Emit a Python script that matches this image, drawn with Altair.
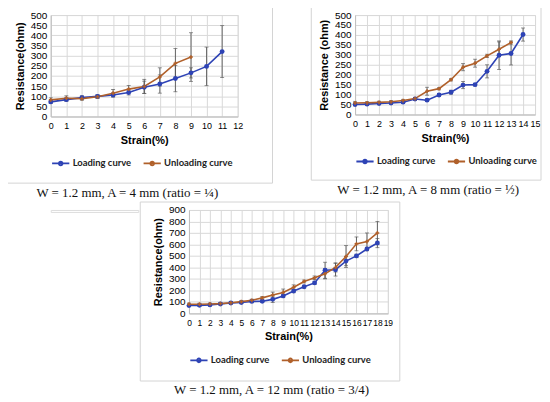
import altair as alt
import pandas as pd

# ---------------- data ----------------
series_names = ["Loading curve", "Unloading curve"]

strain1_load = list(range(0, 12))
load1 = [72, 83, 93, 99, 106, 118, 144, 160, 187, 215, 247, 320]
load1_err = [8, 8, 10, 8, 10, 12, 30, 45, 65, 25, 95, 128]
strain1_unload = list(range(0, 10))
unload1 = [82, 90, 88, 97, 115, 135, 148, 195, 262, 293]
unload1_err = [10, 12, 8, 8, 18, 18, 35, 45, 73, 120]

strain2_load = list(range(0, 15))
load2 = [50, 52, 55, 58, 62, 78, 72, 98, 112, 148, 150, 217, 298, 307, 402]
load2_err = [6, 5, 5, 5, 6, 6, 6, 8, 10, 18, 6, 33, 72, 58, 33]
strain2_unload = list(range(0, 14))
unload2 = [58, 59, 61, 64, 70, 80, 117, 130, 175, 238, 258, 295, 328, 362]
unload2_err = [8, 6, 6, 6, 6, 6, 20, 6, 6, 18, 20, 8, 37, 8]

strain3_load = list(range(0, 19))
load3 = [68, 70, 74, 82, 90, 94, 104, 106, 122, 152, 195, 232, 265, 375, 380, 455, 500, 560, 612]
load3_err = [8, 8, 8, 8, 8, 8, 10, 10, 28, 15, 15, 12, 15, 70, 55, 40, 15, 15, 40]
strain3_unload = list(range(0, 19))
unload3 = [80, 80, 82, 85, 92, 102, 114, 135, 160, 182, 228, 278, 310, 345, 400, 495, 605, 625, 700]
unload3_err = [10, 8, 8, 8, 8, 10, 10, 12, 25, 30, 20, 12, 15, 45, 40, 95, 60, 75, 100]

captions = [
    "W = 1.2 mm, A = 4 mm (ratio = \u00bc)",
    "W = 1.2 mm, A = 8 mm (ratio = \u00bd)",
    "W = 1.2 mm, A = 12 mm (ratio = 3/4)",
]
y_titles = ["Resistance(ohm)", "Resistance (ohm)", "Resistance(ohm)"]
x_title = "Strain(%)"

BLUE = "#2E43B5"
BROWN = "#B0602A"
FONT = "Lato"


def series_df(xs, ys, errs, name):
    return pd.DataFrame({
        "strain": xs,
        "res": ys,
        "lo": [y - e for y, e in zip(ys, errs)],
        "hi": [y + e for y, e in zip(ys, errs)],
        "series": name,
    })


def panel(lx, ly, le, ux, uy, ue, xmax, ymax, ystep, w, h, ytitle, caption, frame,
          xlabel_size=9):
    dl = series_df(lx, ly, le, series_names[0])
    du = series_df(ux, uy, ue, series_names[1])
    df = pd.concat([dl, du], ignore_index=True)

    xs = alt.Scale(domain=[0, xmax], nice=False)
    ys = alt.Scale(domain=[0, ymax], nice=False)
    xax = alt.Axis(values=list(range(0, xmax + 1)), title=x_title, labelOverlap=False,
                   labelFlush=False, ticks=False, labelPadding=5, titlePadding=4,
                   labelFontSize=xlabel_size,
                   gridColor="#d9d9d9", domainColor="#bfbfbf")
    yax = alt.Axis(values=list(range(0, ymax + 1, ystep)), title=ytitle, ticks=False,
                   labelOverlap=False, labelPadding=4, titlePadding=5,
                   gridColor="#d9d9d9", domainColor="#bfbfbf", labelFlush=False)

    X = alt.X("strain:Q", scale=xs, axis=xax)
    Y = alt.Y("res:Q", scale=ys, axis=yax)
    YLO = alt.Y("lo:Q", scale=ys, axis=yax)
    YHI = alt.Y("hi:Q", scale=ys, axis=yax)

    lines = alt.Chart(df).mark_line(strokeWidth=1.6).encode(
        x=X, y=Y,
        color=alt.Color("series:N",
                        scale=alt.Scale(domain=series_names, range=[BLUE, BROWN]),
                        legend=alt.Legend(
                            title=None, orient="bottom", direction="horizontal",
                            symbolType="M-1,0H1M-0.22,0a0.22,0.22 0 1,0 0.44,0a0.22,0.22 0 1,0 -0.44,0",
                            symbolSize=300, symbolStrokeWidth=1.8, labelOffset=2,
                            labelFont=FONT, labelFontSize=9.5, labelFontWeight="bold",
                            labelColor="#222", columnPadding=8, offset=8)),
    )

    def errs(d):
        c = alt.Chart(d)
        r = c.mark_rule(color="#555", strokeWidth=0.9).encode(x=X, y=YLO, y2="hi:Q")
        t1 = c.mark_tick(color="#555", thickness=0.9, size=4, orient="horizontal").encode(
            x=X, y=YLO)
        t2 = c.mark_tick(color="#555", thickness=0.9, size=4, orient="horizontal").encode(
            x=X, y=YHI)
        return [r, t1, t2]

    pts_l = alt.Chart(dl).mark_point(filled=True, shape="circle", size=24, color=BLUE,
                                     opacity=1).encode(x=X, y=Y)
    pts_u = alt.Chart(du).mark_point(filled=True, shape="cross", size=14, color=BROWN,
                                     opacity=1).encode(x=X, y=Y)

    fx0, fx1, fy0, fy1 = frame
    frame_rect = alt.Chart(alt.Data(values=[{"f": 1}])).mark_rect(
        fillOpacity=0, stroke="#d4d4d4", strokeWidth=1).encode(
        x=alt.value(fx0), x2=alt.value(w + fx1), y=alt.value(fy0), y2=alt.value(h + fy1))

    layers = [frame_rect] + errs(dl) + errs(du) + [lines, pts_l, pts_u]

    return alt.layer(*layers).properties(
        width=w, height=h,
        title=alt.TitleParams(caption, orient="bottom", anchor="middle", frame="group",
                              dx=-17, offset=3, font="Liberation Serif", fontSize=13,
                              fontWeight="normal", color="#111"),
    )


p1 = panel(strain1_load, load1, load1_err, strain1_unload, unload1, unload1_err,
           12, 500, 50, 188, 102, y_titles[0], captions[0], (-50, 35, -10, 67))
p2 = panel(strain2_load, load2, load2_err, strain2_unload, unload2, unload2_err,
           15, 500, 50, 181, 100, y_titles[1], captions[1], (-44, 6, -9, 66))
p3 = panel(strain3_load, load3, load3_err, strain3_unload, unload3, unload3_err,
           19, 900, 100, 200, 104, y_titles[2], captions[2], (-49, 12, -8, 68),
           xlabel_size=8.5)

# empty spacer view that shifts the bottom panel to the right
spacer = alt.Chart(alt.Data(values=[{"f": 1}])).mark_rect(
    fillOpacity=0, strokeOpacity=0).encode(
    x=alt.value(0), x2=alt.value(88), y=alt.value(0), y2=alt.value(2)
).properties(width=88, height=2)

top = alt.hconcat(p1, p2, spacing=37).resolve_scale(color="independent")
bottom = alt.hconcat(spacer, p3, spacing=0).resolve_scale(color="independent")
chart = alt.vconcat(top, bottom, spacing=1).resolve_scale(
    color="independent"
).properties(padding={"left": -8, "top": -5, "right": 0, "bottom": 0}).configure_view(
    stroke=None
).configure_axis(
    labelFont=FONT, labelFontSize=9, labelColor="#333",
    titleFont=FONT, titleFontSize=10, titleFontWeight="bold", titleColor="#222",
).configure(background="white")

chart.save("out.html", embed_options={"renderer": "svg", "actions": False})
